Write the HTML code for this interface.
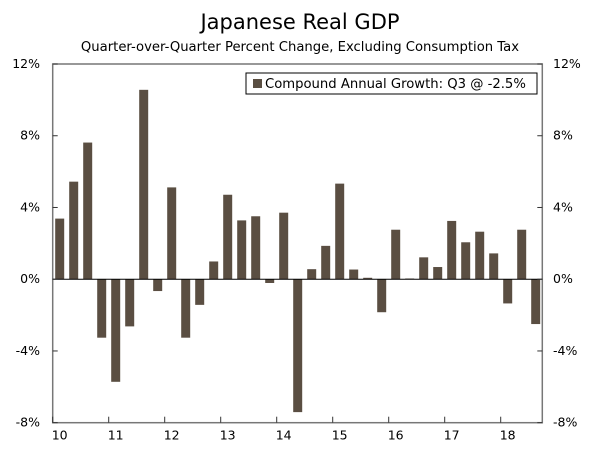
<!DOCTYPE html>
<html><head><meta charset="utf-8"><style>
body{margin:0;background:#fff;}
svg{display:block;font-family:"DejaVu Sans","Liberation Sans",sans-serif;}
</style></head><body>
<svg id="chart" width="600" height="453" viewBox="0 0 600 453">
<text x="300" y="29" text-anchor="middle" font-size="21" fill="#000">Japanese Real GDP</text>
<text x="300" y="51" text-anchor="middle" font-size="13.2" fill="#000">Quarter-over-Quarter Percent Change, Excluding Consumption Tax</text>
<g id="bars"></g>
<g id="axes"></g>
<g>
<rect x="246" y="73" width="291" height="21" fill="#fff" stroke="#000" stroke-width="1"/>
<rect x="253" y="79" width="9" height="9" fill="#5a4e42"/>
<text x="265" y="88" font-size="13.2" fill="#000">Compound Annual Growth: Q3 @ -2.5%</text>
</g>
</svg>
<script>
const values=[3.38,5.44,7.62,-3.26,-5.72,-2.63,10.56,-0.66,5.12,-3.26,-1.43,0.99,4.71,3.28,3.51,-0.21,3.71,-7.41,0.56,1.86,5.33,0.54,0.08,-1.84,2.76,0.04,1.22,0.68,3.25,2.06,2.65,1.44,-1.35,2.76,-2.5];
const yearLabels=["10","11","12","13","14","15","16","17","18"];
const yTicks=[-8,-4,0,4,8,12];
const NS="http://www.w3.org/2000/svg";
const L=52.7,R=542.3,T=64,B=422.7,ymin=-8,ymax=12,q=14;
const y=v=>B-(v-ymin)/(ymax-ymin)*(B-T);
const x=i=>L+i*q;
const bars=document.getElementById('bars'),axes=document.getElementById('axes');
function mk(tag,attrs,parent){const e=document.createElementNS(NS,tag);for(const k in attrs)e.setAttribute(k,attrs[k]);parent.appendChild(e);return e;}
values.forEach((v,i)=>{
  const r=mk('rect',{x:x(i)+2.5,y:Math.min(y(v),y(0)),width:9,height:Math.max(0.5,Math.abs(y(v)-y(0))),fill:'#5a4e42'},bars);
  
  
});
const frame=mk('rect',{x:L,y:T,width:R-L,height:B-T,fill:'none',stroke:'#777','stroke-width':1.5},axes);


const zl=mk('line',{x1:L,x2:R,y1:y(0),y2:y(0),stroke:'#000','stroke-width':1},axes);


yTicks.forEach(t=>{
  mk('line',{x1:L,x2:L+5,y1:y(t),y2:y(t),stroke:'#333'},axes);
  mk('line',{x1:R-5,x2:R,y1:y(t),y2:y(t),stroke:'#333'},axes);
  const a=mk('text',{x:40,y:y(t)+4,'text-anchor':'end','font-size':12.5,fill:'#000'},axes);
  a.textContent=t+'%';
  
  
  const b=mk('text',{x:553,y:y(t)+4,'font-size':12.5,fill:'#000'},axes);
  b.textContent=t+'%';
  
  
});
yearLabels.forEach((lab,i)=>{
  const tx=x(i*4);
  mk('line',{x1:tx,x2:tx,y1:B-6,y2:B,stroke:'#333'},axes);
  const t=mk('text',{x:tx+7,y:B+17,'text-anchor':'middle','font-size':12.5,fill:'#000'},axes);
  t.textContent=lab;
  
  
});
</script>
</body></html>
